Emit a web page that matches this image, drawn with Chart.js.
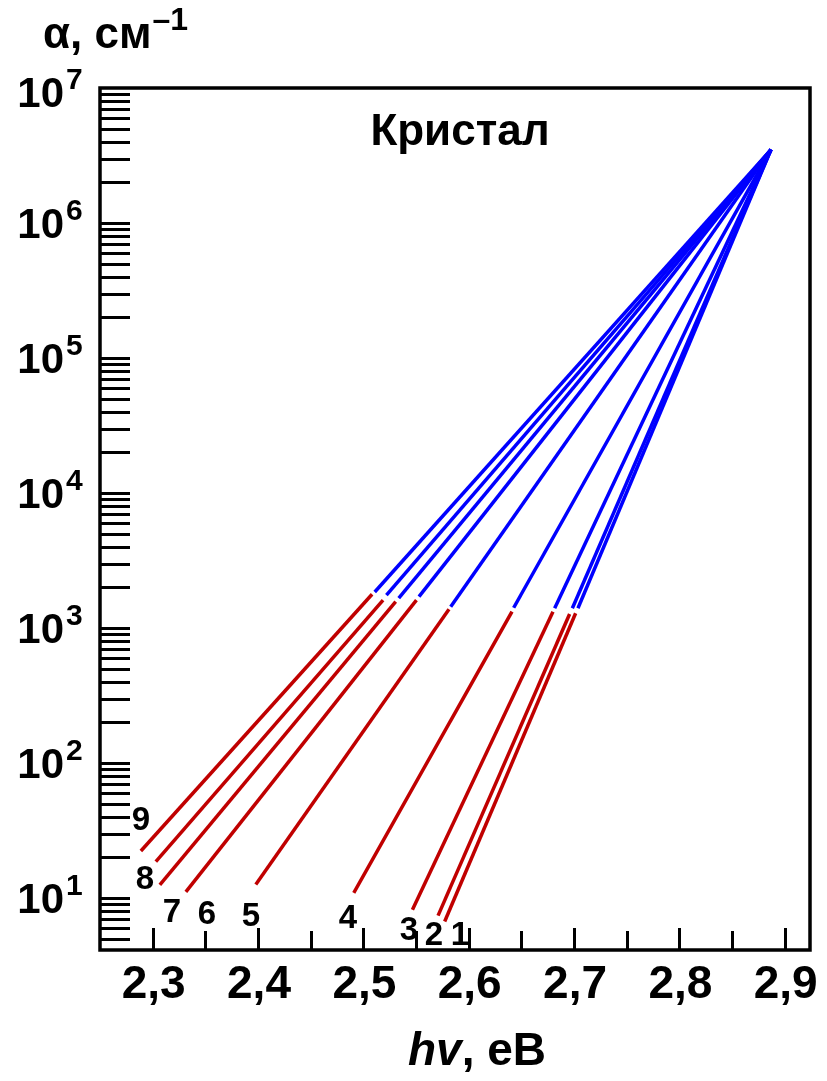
<!DOCTYPE html>
<html>
<head>
<meta charset="utf-8">
<script src="https://cdn.jsdelivr.net/npm/chart.js@4.4.1/dist/chart.umd.min.js"></script>
<style>
  html, body { margin: 0; padding: 0; background: #fff; }
  canvas { display: block; }
</style>
</head>
<body>
<canvas id="c" width="827" height="1081"></canvas>
<script>
// ---- Data ----
const curveNames = ['1', '2', '3', '4', '5', '6', '7', '8', '9'];
// lower (red) segment: start (bottom) and end (near 10^3)
const redStartX = [2.5772, 2.5709, 2.5466, 2.4909, 2.3979, 2.3315, 2.3068, 2.3030, 2.2888];
const redStartY = [6.7, 7.4, 8.2, 10.9, 12.6, 11.1, 12.5, 18.6, 22.3];
const redEndX   = [2.7015, 2.6958, 2.6800, 2.6411, 2.5813, 2.5504, 2.5307, 2.5187, 2.5083];
const redEndY   = [1285, 1270, 1321, 1321, 1376, 1611, 1567, 1611, 1778];
// upper (blue) segment: start just above the break, all meet at a common point
const blueStartX = [2.7037, 2.6984, 2.6816, 2.6427, 2.5829, 2.5528, 2.5336, 2.5219, 2.5108];
const blueStartY = [1400, 1400, 1400, 1413, 1439, 1706, 1667, 1754, 1849];
const apexX = [2.887, 2.887, 2.887, 2.887, 2.887, 2.887, 2.887, 2.887, 2.887];
const apexY = [3.5e6, 3.5e6, 3.5e6, 3.5e6, 3.5e6, 3.5e6, 3.5e6, 3.5e6, 3.5e6];
// curve number label positions (data coords)
const labelX = [2.5917, 2.5670, 2.5433, 2.4853, 2.3932, 2.3515, 2.3183, 2.2926, 2.2888];
const labelY = [5.5, 5.5, 6.0, 7.36, 7.6, 7.87, 8.15, 14.4, 39.2];

// axes
const xMajorTicks = [2.3, 2.4, 2.5, 2.6, 2.7, 2.8, 2.9];
const xMajorLabels = ['2,3', '2,4', '2,5', '2,6', '2,7', '2,8', '2,9'];
const xMinorTicks = [2.35, 2.45, 2.55, 2.65, 2.75, 2.85];
const yDecadePowers = [1, 2, 3, 4, 5, 6, 7];
const yMantissas = [1, 2, 3, 4, 5, 6, 7, 8, 9];
const yPowersForMinor = [0, 1, 2, 3, 4, 5, 6];
const xMin = 2.25, xMax = 2.924, yMin = 4.12, yMax = 1e7;

const titleText = 'Кристал';
const xTitleItalic = 'hv';
const xTitleRest = ', eB';
const yTitleMain = 'α, см';
const yTitleSup = '–1';

const RED = '#C00000';
const BLUE = '#0000FF';
const FONT = '"Liberation Sans", Arial, Helvetica, sans-serif';

const datasets = [];
curveNames.forEach((n, i) => {
  datasets.push({
    label: 'red ' + n,
    data: [{ x: redStartX[i], y: redStartY[i] }, { x: redEndX[i], y: redEndY[i] }],
    borderColor: RED, borderWidth: 3.5, pointRadius: 0, fill: false, tension: 0
  });
  datasets.push({
    label: 'blue ' + n,
    data: [{ x: blueStartX[i], y: blueStartY[i] }, { x: apexX[i], y: apexY[i] }],
    borderColor: BLUE, borderWidth: 3.5, pointRadius: 0, fill: false, tension: 0
  });
});

const decorPlugin = {
  id: 'decor',
  afterDraw(chart) {
    const ctx = chart.ctx;
    const xs = chart.scales.x, ys = chart.scales.y;
    const a = chart.chartArea;
    ctx.save();
    ctx.strokeStyle = '#000';
    ctx.fillStyle = '#000';
    ctx.lineCap = 'butt';

    // y ticks (inward)
    ctx.lineWidth = 3;
    yPowersForMinor.forEach(p => {
      yMantissas.forEach(m => {
        const v = m * Math.pow(10, p);
        if (v < yMin || v > yMax) return;
        const py = Math.round(ys.getPixelForValue(v)) + 0.5;
        ctx.beginPath();
        ctx.moveTo(a.left, py);
        ctx.lineTo(a.left + 30, py);
        ctx.stroke();
      });
    });
    // x ticks (inward)
    xMajorTicks.forEach(v => {
      const px = Math.round(xs.getPixelForValue(v)) + 0.5;
      ctx.beginPath();
      ctx.moveTo(px, a.bottom);
      ctx.lineTo(px, a.bottom - 22);
      ctx.stroke();
    });
    xMinorTicks.forEach(v => {
      const px = Math.round(xs.getPixelForValue(v)) + 0.5;
      ctx.beginPath();
      ctx.moveTo(px, a.bottom);
      ctx.lineTo(px, a.bottom - 19);
      ctx.stroke();
    });

    // frame
    ctx.lineWidth = 3.5;
    ctx.strokeRect(a.left, a.top, a.right - a.left, a.bottom - a.top);

    // y labels 10^n
    yDecadePowers.forEach(p => {
      let py = ys.getPixelForValue(Math.pow(10, p));
      if (p === 7) py += 4;
      ctx.font = 'bold 42px ' + FONT;
      ctx.textAlign = 'right';
      ctx.textBaseline = 'alphabetic';
      ctx.fillText('10', 64, py + 15);
      ctx.font = 'bold 30px ' + FONT;
      ctx.textAlign = 'left';
      ctx.fillText(String(p), 66, py - 3);
    });

    // x labels
    ctx.font = 'bold 46px ' + FONT;
    ctx.textAlign = 'center';
    ctx.textBaseline = 'alphabetic';
    xMajorTicks.forEach((v, i) => {
      const px = xs.getPixelForValue(v);
      ctx.fillText(xMajorLabels[i], px + 1, 998);
    });

    // x title
    ctx.font = 'italic bold 46px ' + FONT;
    const w1 = ctx.measureText(xTitleItalic).width;
    ctx.font = 'bold 46px ' + FONT;
    const w2 = ctx.measureText(xTitleRest).width;
    const startX = 477 - (w1 + w2) / 2;
    ctx.textAlign = 'left';
    ctx.font = 'italic bold 46px ' + FONT;
    ctx.fillText(xTitleItalic, startX, 1065);
    ctx.font = 'bold 46px ' + FONT;
    ctx.fillText(xTitleRest, startX + w1, 1065);

    // y title
    ctx.font = 'bold 44px ' + FONT;
    ctx.fillText(yTitleMain, 43, 48);
    const wy = ctx.measureText(yTitleMain).width;
    ctx.font = 'bold 32px ' + FONT;
    ctx.fillText(yTitleSup, 43 + wy + 1, 30);

    // chart title
    ctx.font = 'bold 44px ' + FONT;
    ctx.textAlign = 'center';
    ctx.fillText(titleText, 460, 145);

    // curve numbers
    ctx.font = 'bold 33px ' + FONT;
    ctx.textAlign = 'center';
    curveNames.forEach((n, i) => {
      const px = xs.getPixelForValue(labelX[i]);
      const py = ys.getPixelForValue(labelY[i]);
      ctx.fillText(n, px, py + 12);
    });
    ctx.restore();
  }
};

new Chart(document.getElementById('c'), {
  type: 'line',
  data: { datasets },
  options: {
    responsive: false,
    animation: false,
    devicePixelRatio: 1,
    layout: { padding: { left: 100, top: 88, right: 17, bottom: 131 } },
    plugins: { legend: { display: false }, tooltip: { enabled: false }, title: { display: false } },
    scales: {
      x: { type: 'linear', min: xMin, max: xMax, display: false },
      y: { type: 'logarithmic', min: yMin, max: yMax, display: false }
    }
  },
  plugins: [decorPlugin]
});
</script>
</body>
</html>
